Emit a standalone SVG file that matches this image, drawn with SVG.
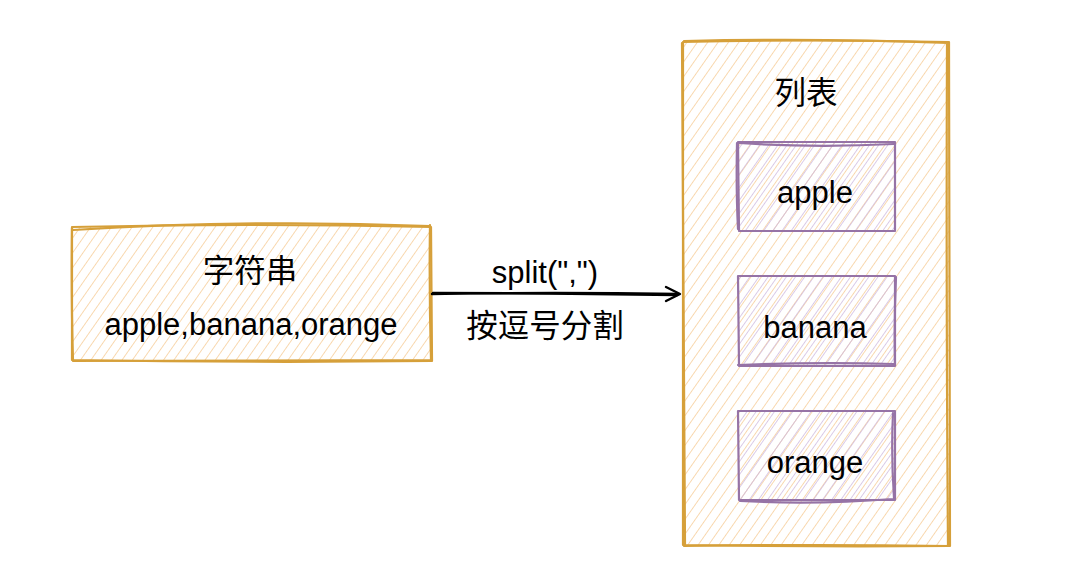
<svg xmlns="http://www.w3.org/2000/svg" width="1066" height="582" viewBox="0 0 1066 582">
<style>
.orange{fill:none;stroke:#d6a03a;stroke-width:2.2;stroke-linecap:round;stroke-linejoin:round}
.purple{fill:none;stroke:#9673a6;stroke-width:2.2;stroke-linecap:round;stroke-linejoin:round}
.t{font-family:"Liberation Sans","Noto Sans CJK SC",Arial,sans-serif;font-size:31px;fill:#000;text-anchor:middle}
.cjk{font-family:"Noto Sans CJK SC","Liberation Sans",sans-serif;font-size:31.5px;fill:#000;text-anchor:middle}
.edge{fill:none;stroke:#000;stroke-width:2.4;stroke-linecap:round;stroke-linejoin:round}
</style>
<defs>
<pattern id="hOrange" width="8.5" height="8.5" patternUnits="userSpaceOnUse" patternTransform="rotate(35)">
<line x1="0" y1="0" x2="0" y2="8.5" stroke="#f7cd98" stroke-width="1.5"/>
</pattern>
<pattern id="hPurple" width="7.5" height="7.5" patternUnits="userSpaceOnUse" patternTransform="rotate(35)">
<line x1="0" y1="0" x2="0" y2="7.5" stroke="#cfbbe0" stroke-width="1.5"/>
</pattern>
</defs>
<rect width="1066" height="582" fill="#ffffff"/>

<g id="string-node">
<rect x="72" y="226" width="360" height="135" fill="url(#hOrange)"/>
<path class="orange" d="M72 227 Q250 223 431 227 L432 361 Q250 363 72 360 Z"/>
<path class="orange" d="M73 230 Q250 219 430 226 M430 225 Q429 290 431 360 M431 360 Q250 361 73 361 M73 361 Q71 290 72 228"/>
<text class="cjk" x="250" y="282">字符串</text>
<text class="t" x="251" y="335">apple,banana,orange</text>
</g>

<g id="list-node">
<rect x="683" y="41" width="267" height="505" fill="url(#hOrange)"/>
<path class="orange" d="M683 42 Q815 39 949 42 L950 546 Q815 547 683 545 Z"/>
<path class="orange" d="M684 41 Q820 38 948 43 M947 42 Q946 300 948 545 M949 546 Q815 544 684 546 M685 545 Q683 300 682 43"/>
<text class="cjk" x="806" y="104">列表</text>
</g>

<g id="apple-node">
<rect x="738" y="142" width="157" height="89" fill="url(#hPurple)"/>
<path class="purple" d="M738 142 L895 142 L895 231 L739 231 Z"/>
<path class="purple" d="M739 143 Q815 148 894 144 M737 143 Q736 190 738 229"/>
<text class="t" x="815" y="203">apple</text>
</g>

<g id="banana-node">
<rect x="738" y="276" width="157" height="90" fill="url(#hPurple)"/>
<path class="purple" d="M738 276 L895 276 L895 366 L739 366 Z"/>
<path class="purple" d="M738 365 Q815 362 894 364 M896 277 Q894 320 895 365"/>
<text class="t" x="815" y="338">banana</text>
</g>

<g id="orange-node">
<rect x="738" y="411" width="157" height="89" fill="url(#hPurple)"/>
<path class="purple" d="M738 411 L895 411 L895 500 L739 500 Z"/>
<path class="purple" d="M740 501 Q815 505 893 499 M893 413 Q891 455 894 498"/>
<text class="t" x="815" y="473">orange</text>
</g>

<g id="connectors">
<path class="edge" d="M432 294 Q555 292 678 294"/>
<path class="edge" d="M433 293 Q550 293 677 295"/>
<path class="edge" d="M666 287 L680 294 L666 301"/>
<text class="t" x="545" y="283">split(",")</text>
<text class="cjk" x="545" y="337">按逗号分割</text>
</g>
</svg>
